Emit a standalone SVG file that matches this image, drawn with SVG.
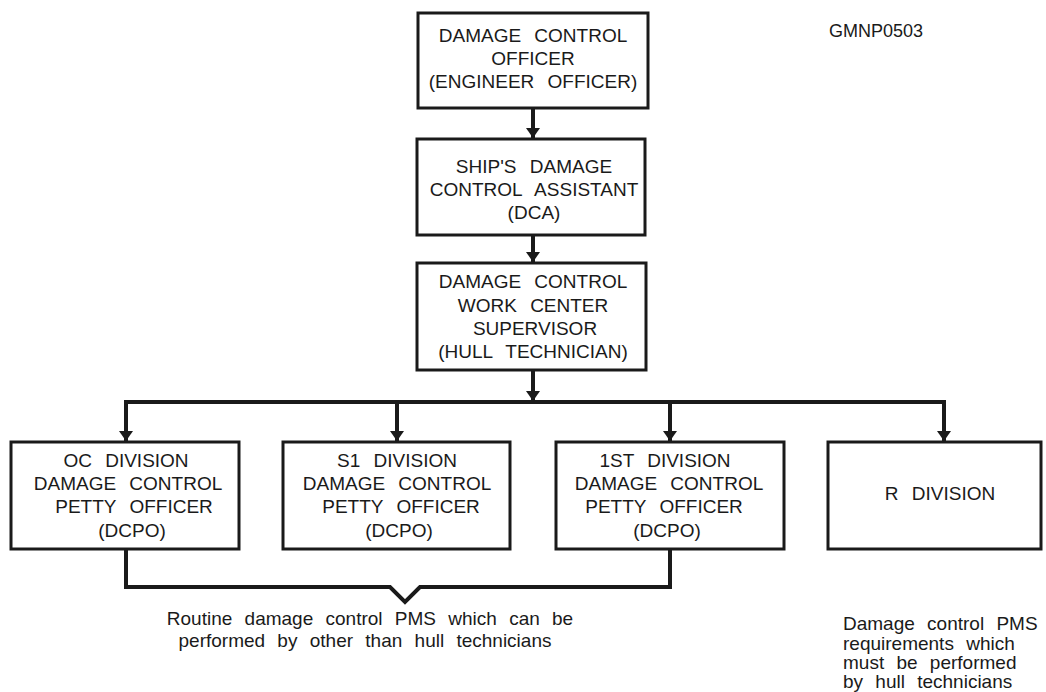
<svg xmlns="http://www.w3.org/2000/svg" width="1046" height="692" viewBox="0 0 1046 692">
  <style>
    .box { fill: #ffffff; stroke: #1a1a1a; stroke-width: 3; }
    .lbl { font-family: "Liberation Sans", Arial, sans-serif; font-size: 19px; fill: #1a1a1a; text-anchor: middle; word-spacing: 8px; }
    .note { font-family: "Liberation Sans", Arial, sans-serif; font-size: 19px; fill: #1a1a1a; word-spacing: 7px; }
    .wire { fill: none; stroke: #1a1a1a; stroke-width: 4; }
  </style>
  <defs>
    <marker id="arrow" viewBox="0 0 10 14" refX="10" refY="7" markerWidth="10" markerHeight="14" markerUnits="userSpaceOnUse" orient="auto">
      <path d="M0,0 L10,7 L0,14 Z" fill="#1a1a1a"/>
    </marker>
  </defs>
  <rect width="1046" height="692" fill="#ffffff"/>

  <text class="note" x="829" y="37" style="font-size:18px">GMNP0503</text>

  <g id="connectors">
    <line class="wire" x1="533" y1="108" x2="533" y2="138" marker-end="url(#arrow)"/>
    <line class="wire" x1="533" y1="235" x2="533" y2="262" marker-end="url(#arrow)"/>
    <line class="wire" x1="533" y1="370" x2="533" y2="401" marker-end="url(#arrow)"/>
    <line class="wire" x1="124" y1="402" x2="946" y2="402"/>
    <line class="wire" x1="126" y1="400" x2="126" y2="441" marker-end="url(#arrow)"/>
    <line class="wire" x1="397" y1="400" x2="397" y2="441" marker-end="url(#arrow)"/>
    <line class="wire" x1="670" y1="400" x2="670" y2="441" marker-end="url(#arrow)"/>
    <line class="wire" x1="944" y1="400" x2="944" y2="441" marker-end="url(#arrow)"/>
    <path class="wire" d="M126,549 V587 H390 L405,602 L420,587 H670 V549"/>
  </g>

  <g id="damage-control-officer">
    <rect class="box" x="418" y="13" width="230" height="95"/>
    <text class="lbl" x="533" y="42">DAMAGE CONTROL</text>
    <text class="lbl" x="533" y="65">OFFICER</text>
    <text class="lbl" x="533" y="88">(ENGINEER OFFICER)</text>
  </g>

  <g id="dca">
    <rect class="box" x="417" y="139" width="228" height="96"/>
    <text class="lbl" x="534" y="173">SHIP'S DAMAGE</text>
    <text class="lbl" x="534" y="196">CONTROL ASSISTANT</text>
    <text class="lbl" x="534" y="219">(DCA)</text>
  </g>

  <g id="work-center-supervisor">
    <rect class="box" x="417" y="263" width="229" height="107"/>
    <text class="lbl" x="533" y="288">DAMAGE CONTROL</text>
    <text class="lbl" x="533" y="312">WORK CENTER</text>
    <text class="lbl" x="535" y="335">SUPERVISOR</text>
    <text class="lbl" x="533" y="358">(HULL TECHNICIAN)</text>
  </g>

  <g id="oc-division">
    <rect class="box" x="11" y="442" width="228" height="107"/>
    <text class="lbl" x="126" y="467">OC DIVISION</text>
    <text class="lbl" x="128" y="490">DAMAGE CONTROL</text>
    <text class="lbl" x="134" y="513">PETTY OFFICER</text>
    <text class="lbl" x="132" y="537">(DCPO)</text>
  </g>

  <g id="s1-division">
    <rect class="box" x="283" y="442" width="227" height="107"/>
    <text class="lbl" x="397" y="467">S1 DIVISION</text>
    <text class="lbl" x="397" y="490">DAMAGE CONTROL</text>
    <text class="lbl" x="401" y="513">PETTY OFFICER</text>
    <text class="lbl" x="399" y="537">(DCPO)</text>
  </g>

  <g id="first-division">
    <rect class="box" x="556" y="442" width="228" height="107"/>
    <text class="lbl" x="665" y="467">1ST DIVISION</text>
    <text class="lbl" x="669" y="490">DAMAGE CONTROL</text>
    <text class="lbl" x="664" y="513">PETTY OFFICER</text>
    <text class="lbl" x="667" y="537">(DCPO)</text>
  </g>

  <g id="r-division">
    <rect class="box" x="828" y="442" width="213" height="107"/>
    <text class="lbl" x="940" y="500">R DIVISION</text>
  </g>

  <g id="notes">
    <text class="note" x="370" y="625" text-anchor="middle">Routine damage control PMS which can be</text>
    <text class="note" x="365" y="647" text-anchor="middle">performed by other than hull technicians</text>
    <text class="note" x="843" y="630">Damage control PMS</text>
    <text class="note" x="843" y="649.5">requirements which</text>
    <text class="note" x="843" y="669">must be performed</text>
    <text class="note" x="843" y="688">by hull technicians</text>
  </g>
</svg>
